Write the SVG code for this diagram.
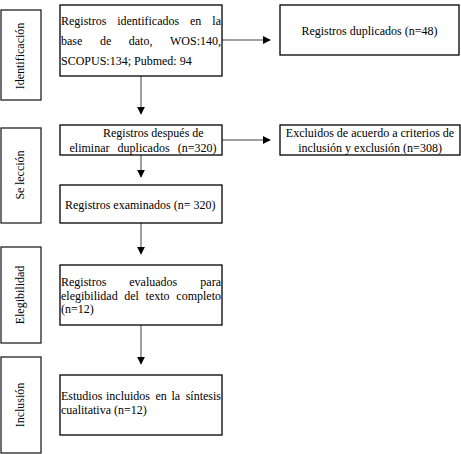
<svg xmlns="http://www.w3.org/2000/svg" width="461" height="454" viewBox="0 0 461 454" font-family="'Liberation Serif', 'Times New Roman', Times, serif" font-size="12">
<defs>
<style>
text{font-family:'Liberation Serif','Times New Roman',Times,serif;font-size:12px;fill:#000}
.box{fill:#fff;stroke:#000;stroke-width:1.3}
.side{fill:#fff;stroke:#222;stroke-width:1.3}
.conn{stroke:#808080;stroke-width:1.5;fill:none}
</style>
<marker id="ah" viewBox="0 0 10 10" refX="9" refY="5" markerWidth="8" markerHeight="8" markerUnits="userSpaceOnUse" orient="auto">
<path d="M0,0 L10,5 L0,10 z" fill="#000"/>
</marker>
</defs>
<rect width="461" height="454" fill="#fff"/>
<g id="connectors">
<line class="conn" x1="222" y1="40" x2="270" y2="40" marker-end="url(#ah)"/>
<line class="conn" x1="141" y1="76" x2="141" y2="114" marker-end="url(#ah)"/>
<line class="conn" x1="222" y1="140" x2="270" y2="140" marker-end="url(#ah)"/>
<line class="conn" x1="141" y1="155" x2="141" y2="177" marker-end="url(#ah)"/>
<line class="conn" x1="141" y1="223" x2="141" y2="254" marker-end="url(#ah)"/>
<line class="conn" x1="141" y1="325" x2="141" y2="364" marker-end="url(#ah)"/>
</g>
<g id="side-identificacion">
<rect class="side" x="1" y="10" width="40" height="90"/>
<text transform="translate(24,56) rotate(-90)" text-anchor="middle">Identificación</text>
</g>
<g id="side-seleccion">
<rect class="side" x="1" y="128" width="40" height="95"/>
<text transform="translate(24,175) rotate(-90)" text-anchor="middle">Se<tspan dx="2.5">lección</tspan></text>
</g>
<g id="side-elegibilidad">
<rect class="side" x="1" y="247" width="40" height="96"/>
<text transform="translate(24,295) rotate(-90)" text-anchor="middle">Elegibilidad</text>
</g>
<g id="side-inclusion">
<rect class="side" x="1" y="357" width="40" height="96"/>
<text transform="translate(24,405) rotate(-90)" text-anchor="middle">Inclusión</text>
</g>
<g id="n-identificados">
<rect class="box" x="60" y="5" width="162" height="71"/>
<text y="25"><tspan x="61">Registros</tspan><tspan x="117.2">identificados</tspan><tspan x="190">en</tspan><tspan x="221" text-anchor="end">la</tspan></text>
<text y="45"><tspan x="61">base</tspan><tspan x="99.9">de</tspan><tspan x="128.8">dato,</tspan><tspan x="221" text-anchor="end">WOS:140,</tspan></text>
<text x="61" y="64.5">SCOPUS:134; Pubmed: 94</text>
</g>
<g id="n-duplicados">
<rect class="box" x="280" y="5" width="179" height="50"/>
<text x="369.5" y="35" text-anchor="middle">Registros duplicados (n=48)</text>
</g>
<g id="n-despues">
<rect class="box" x="60" y="125" width="162" height="30"/>
<text x="103" y="137">Registros después de</text>
<text y="152"><tspan x="69.5">eliminar</tspan><tspan x="117.6">duplicados</tspan><tspan x="216.5" text-anchor="end">(n=320)</tspan></text>
</g>
<g id="n-excluidos">
<rect class="box" x="280" y="125" width="180" height="30"/>
<text x="370" y="137" text-anchor="middle">Excluidos de acuerdo a criterios de</text>
<text x="370" y="152" text-anchor="middle">inclusión y exclusión (n=308)</text>
</g>
<g id="n-examinados">
<rect class="box" x="60" y="185" width="162" height="38"/>
<text x="65" y="209">Registros examinados (n= 320)</text>
</g>
<g id="n-evaluados">
<rect class="box" x="60" y="265" width="162" height="60"/>
<text y="286"><tspan x="61">Registros</tspan><tspan x="129.3">evaluados</tspan><tspan x="221" text-anchor="end">para</tspan></text>
<text y="300"><tspan x="61">elegibilidad</tspan><tspan x="124.3">del</tspan><tspan x="145.6">texto</tspan><tspan x="221" text-anchor="end">completo</tspan></text>
<text x="61" y="313">(n=12)</text>
</g>
<g id="n-incluidos">
<rect class="box" x="60" y="375" width="162" height="60"/>
<text y="400"><tspan x="61">Estudios</tspan><tspan x="106">incluidos</tspan><tspan x="155.5">en</tspan><tspan x="171.5">la</tspan><tspan x="221" text-anchor="end">síntesis</tspan></text>
<text x="61" y="414">cualitativa (n=12)</text>
</g>
</svg>
